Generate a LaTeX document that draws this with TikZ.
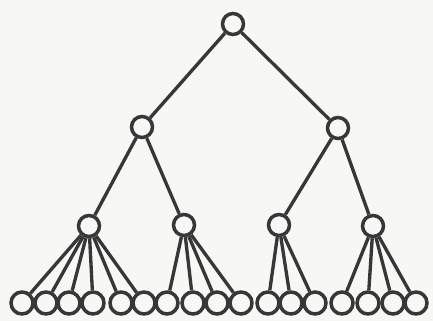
\documentclass[tikz,border=0pt]{standalone}
\usepackage{xcolor}
\usetikzlibrary{arrows}
\usetikzlibrary{math}
\definecolor{myink}{RGB}{55, 55, 55}
\definecolor{mypaper}{RGB}{247, 247, 245}

\tikzset{
vert/.style={circle, draw=myink, line width=2pt, inner sep=0pt, minimum size=0.42cm},
leaf/.style={vert, minimum size=0.44cm},
edge/.style={draw=myink, line width=1.9pt}
}

\begin{document}
\begin{tikzpicture}[x=0.02cm, y=-0.02cm]
\tikzmath{
\yL=303;
}
\fill[mypaper] (0,0) rectangle (433,321);
\useasboundingbox (0,0) rectangle (433,321);

% inner vertices
\node[vert] (r) at (233,24) {};
\node[vert] (a) at (142,127) {};
\node[vert] (b) at (338,128) {};
\node[vert] (a1) at (89,226) {};
\node[vert] (a2) at (184,225) {};
\node[vert] (b1) at (279,225) {};
\node[vert] (b2) at (373,226) {};

% leaves
\node[leaf] (l1) at (22,\yL) {};
\node[leaf] (l2) at (46,\yL) {};
\node[leaf] (l3) at (69,\yL) {};
\node[leaf] (l4) at (93,\yL) {};
\node[leaf] (l5) at (121,\yL) {};
\node[leaf] (l6) at (144,\yL) {};
\node[leaf] (l7) at (167,\yL) {};
\node[leaf] (l8) at (193,\yL) {};
\node[leaf] (l9) at (217,\yL) {};
\node[leaf] (l10) at (241,\yL) {};
\node[leaf] (l11) at (268,\yL) {};
\node[leaf] (l12) at (291,\yL) {};
\node[leaf] (l13) at (315,\yL) {};
\node[leaf] (l14) at (342,\yL) {};
\node[leaf] (l15) at (368,\yL) {};
\node[leaf] (l16) at (393,\yL) {};
\node[leaf] (l17) at (416,\yL) {};

\draw[edge] (r) -- (a);
\draw[edge] (r) -- (b);
\draw[edge] (a) -- (a1);
\draw[edge] (a) -- (a2);
\draw[edge] (b) -- (b1);
\draw[edge] (b) -- (b2);

\foreach \k in {1,...,6} {\draw[edge] (a1) -- (l\k);}
\foreach \k in {7,...,10} {\draw[edge] (a2) -- (l\k);}
\foreach \k in {11,...,13} {\draw[edge] (b1) -- (l\k);}
\foreach \k in {14,...,17} {\draw[edge] (b2) -- (l\k);}
\end{tikzpicture}
\end{document}
